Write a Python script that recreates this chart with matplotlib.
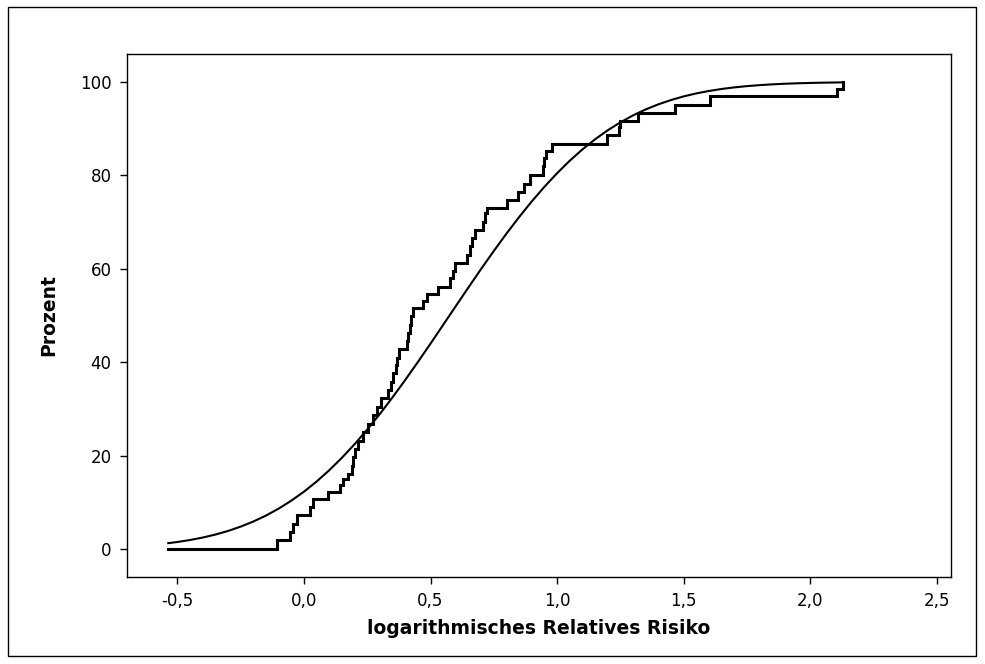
import matplotlib
matplotlib.use("Agg")
import matplotlib.pyplot as plt
from matplotlib.patches import Rectangle

# ---- data ----
# empirical distribution (step function): start point, then jump positions and levels after each jump
ecdf_start_x = -0.536
ecdf_start_pct = 0.0
ecdf_x = [-0.105, -0.057, -0.042, -0.028, 0.024, 0.037, 0.097, 0.143, 0.153, 0.176,
          0.189, 0.192, 0.200, 0.215, 0.235, 0.255, 0.272, 0.290, 0.305, 0.334,
          0.343, 0.352, 0.362, 0.368, 0.374, 0.406, 0.410, 0.418, 0.422, 0.430,
          0.472, 0.485, 0.528, 0.577, 0.590, 0.597, 0.645, 0.655, 0.663, 0.676,
          0.706, 0.714, 0.722, 0.801, 0.847, 0.870, 0.894, 0.946, 0.950, 0.958,
          0.979, 1.197, 1.243, 1.250, 1.321, 1.466, 1.605, 2.105, 2.131]
ecdf_pct = [2.0, 3.6, 5.4, 7.2, 8.9, 10.6, 12.2, 13.6, 15.0, 16.0,
            17.8, 19.7, 21.4, 23.2, 25.0, 26.8, 28.6, 30.4, 32.3, 34.0,
            35.8, 37.6, 39.4, 41.0, 42.8, 44.5, 46.3, 48.0, 49.8, 51.5,
            53.0, 54.5, 56.2, 58.0, 59.5, 61.2, 63.0, 64.8, 66.5, 68.3,
            70.1, 71.9, 73.0, 74.8, 76.4, 78.2, 80.1, 82.0, 83.7, 85.2,
            86.8, 88.7, 90.4, 91.6, 93.4, 95.1, 97.0, 98.4, 100.0]

# fitted distribution curve
fit_x = [-0.536, -0.5, -0.45, -0.4, -0.35, -0.3, -0.25, -0.2, -0.15, -0.1, -0.05,
         0.0, 0.05, 0.1, 0.15, 0.2, 0.25, 0.3, 0.35, 0.4, 0.45, 0.5, 0.55, 0.6,
         0.65, 0.7, 0.75, 0.8, 0.85, 0.9, 0.95, 1.0, 1.05, 1.1, 1.15, 1.2, 1.25,
         1.3, 1.35, 1.4, 1.45, 1.5, 1.55, 1.6, 1.65, 1.7, 1.75, 1.8, 1.85, 1.9,
         1.95, 2.0, 2.05, 2.1, 2.131]
fit_pct = [1.24, 1.49, 1.92, 2.44, 3.08, 3.85, 4.78, 5.87, 7.15, 8.63, 10.34,
           12.26, 14.44, 16.86, 19.53, 22.43, 25.57, 28.92, 32.47, 36.18, 40.03,
           43.97, 47.99, 52.01, 56.02, 59.97, 63.81, 67.53, 71.07, 74.43, 77.56,
           80.47, 83.14, 85.56, 87.73, 89.66, 91.36, 92.85, 94.13, 95.22, 96.14,
           96.92, 97.56, 98.08, 98.51, 98.85, 99.12, 99.33, 99.50, 99.63, 99.73,
           99.80, 99.86, 99.90, 99.92]

x_ticks = [-0.5, 0.0, 0.5, 1.0, 1.5, 2.0, 2.5]
x_tick_labels = ["-0,5", "0,0", "0,5", "1,0", "1,5", "2,0", "2,5"]
y_ticks = [0, 20, 40, 60, 80, 100]
y_tick_labels = ["0", "20", "40", "60", "80", "100"]

# ---- figure ----
fig = plt.figure(figsize=(9.85, 6.64), dpi=100)
fig.patch.set_facecolor("white")
fig.add_artist(Rectangle((7.5 / 985, 1 - 656 / 664), (976 - 7.5) / 985, (656 - 7) / 664,
                         transform=fig.transFigure, fill=False, edgecolor="black", linewidth=1.0))

ax = fig.add_axes([127 / 985, 1 - 576.5 / 664, (950.7 - 127) / 985, (576.5 - 54) / 664])

sx = [ecdf_start_x] + ecdf_x
sy = [ecdf_start_pct] + ecdf_pct
ax.step(sx, sy, where="post", color="black", linewidth=2.2, solid_joinstyle="miter")
ax.plot(fit_x, fit_pct, color="black", linewidth=1.5)

ax.set_xlim(-0.699, 2.555)
ax.set_ylim(-5.9, 106.0)
ax.set_xticks(x_ticks)
ax.set_xticklabels(x_tick_labels)
ax.set_yticks(y_ticks)
ax.set_yticklabels(y_tick_labels)
ax.tick_params(direction="out", length=5, width=1, labelsize=12, pad=6, color="black")
for s in ax.spines.values():
    s.set_linewidth(1.0)
    s.set_color("black")

ax.set_xlabel("logarithmisches Relatives Risiko", fontsize=13.5, fontweight="bold", labelpad=7)
ax.set_ylabel("Prozent", fontsize=13.5, fontweight="bold", labelpad=16)

fig.savefig("out.png", dpi=100, facecolor="white")
